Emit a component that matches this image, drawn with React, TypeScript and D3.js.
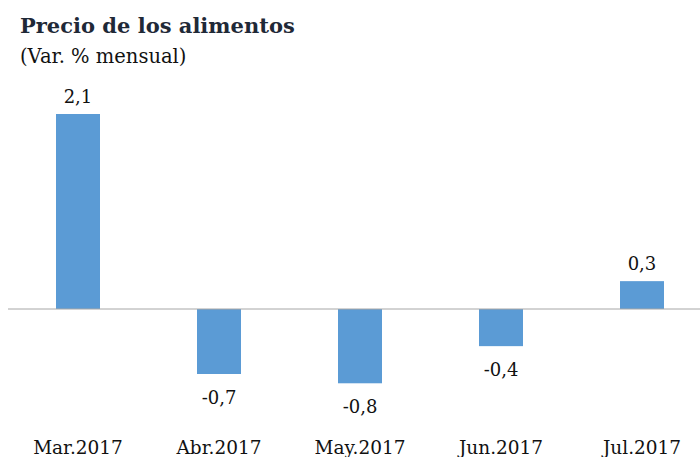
import React from "react";
import * as d3 from "d3";

const categories = ["Mar.2017", "Abr.2017", "May.2017", "Jun.2017", "Jul.2017"];
const values = [2.1, -0.7, -0.8, -0.4, 0.3];
const valueLabels = ["2,1", "-0,7", "-0,8", "-0,4", "0,3"];
const title = "Precio de los alimentos";
const subtitle = "(Var. % mensual)";

const W = 700;
const H = 457;
const FONT = "'DejaVu Serif', 'Liberation Serif', serif";

export default function App() {
  const x = d3
    .scaleBand<string>()
    .domain(categories)
    .range([7.5, 712.5])
    .paddingInner(0.688)
    .paddingOuter(0.344);
  const y = d3.scaleLinear().domain([0, 2.1]).range([309, 114]);
  const y0 = y(0);

  return (
    <div style={{ position: "fixed", left: 0, top: 0 }}>
      <svg width={W} height={H} style={{ display: "block", background: "#fff" }}>
        <text x={20} y={33} fontFamily={FONT} fontWeight="bold" fontSize={21} fill="#1f2937">
          {title}
        </text>
        <text x={20} y={63} fontFamily={FONT} fontSize={19.5} fill="#111">
          {subtitle}
        </text>
        {categories.map((c, i) => {
          const v = values[i];
          const bx = x(c)!;
          const top = Math.min(y(v), y0);
          const h = Math.abs(y(v) - y0);
          const cx = bx + x.bandwidth() / 2;
          const ly = v >= 0 ? y(v) - 11 : y(v) + 30;
          return (
            <g key={c}>
              <rect x={bx} y={top} width={x.bandwidth()} height={h} fill="#5b9bd5" />
              <text x={cx} y={ly} textAnchor="middle" fontFamily={FONT} fontSize={18} fill="#111">
                {valueLabels[i]}
              </text>
              <text x={cx} y={454} textAnchor="middle" fontFamily={FONT} fontSize={18.5} fill="#111">
                {c}
              </text>
            </g>
          );
        })}
        <line x1={8} x2={700} y1={y0} y2={y0} stroke="#a6a6a6" strokeWidth={1} />
      </svg>
    </div>
  );
}
